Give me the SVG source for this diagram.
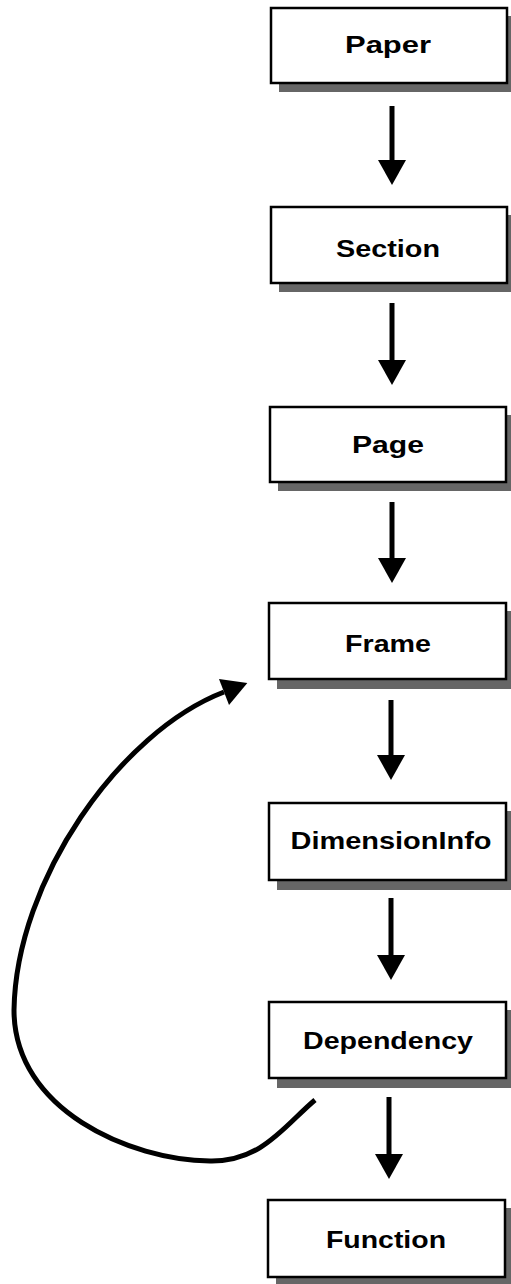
<svg xmlns="http://www.w3.org/2000/svg" width="511" height="1284" viewBox="0 0 511 1284">
  <style>
    .box { fill: #ffffff; stroke: #000000; stroke-width: 2.5; }
    .shadow { fill: #666666; }
    .label { font-family: "Liberation Sans", Arial, sans-serif; font-weight: bold; font-size: 23px; fill: #000000; text-anchor: middle; }
    .conn { fill: none; stroke: #000000; stroke-width: 5; }
  </style>
  <defs>
    <marker id="ah" markerUnits="userSpaceOnUse" markerWidth="26" markerHeight="28" refX="0" refY="14" orient="auto" overflow="visible">
      <path d="M0,0 L25,14 L0,28 z" fill="#000000"/>
    </marker>
  </defs>
  <rect width="511" height="1284" fill="#ffffff"/>

  <g id="node-paper">
    <rect class="shadow" x="279" y="16" width="236" height="76"/>
    <rect class="box" x="271" y="8" width="236" height="75"/>
    <text class="label" x="388" y="53" textLength="86" lengthAdjust="spacingAndGlyphs">Paper</text>
  </g>
  <g id="node-section">
    <rect class="shadow" x="279" y="215" width="236" height="77"/>
    <rect class="box" x="271" y="207" width="236" height="76"/>
    <text class="label" x="388" y="257" textLength="104" lengthAdjust="spacingAndGlyphs">Section</text>
  </g>
  <g id="node-page">
    <rect class="shadow" x="278" y="415" width="236" height="76"/>
    <rect class="box" x="270" y="407" width="236" height="75"/>
    <text class="label" x="388" y="453" textLength="72" lengthAdjust="spacingAndGlyphs">Page</text>
  </g>
  <g id="node-frame">
    <rect class="shadow" x="277" y="611" width="237" height="78"/>
    <rect class="box" x="269" y="603" width="237" height="76"/>
    <text class="label" x="388" y="652" textLength="86" lengthAdjust="spacingAndGlyphs">Frame</text>
  </g>
  <g id="node-dimensioninfo">
    <rect class="shadow" x="277" y="811" width="237" height="79"/>
    <rect class="box" x="269" y="803" width="237" height="77"/>
    <text class="label" x="391" y="849" textLength="201" lengthAdjust="spacingAndGlyphs">DimensionInfo</text>
  </g>
  <g id="node-dependency">
    <rect class="shadow" x="277" y="1010" width="237" height="78"/>
    <rect class="box" x="269" y="1002" width="237" height="76"/>
    <text class="label" x="388" y="1049" textLength="170" lengthAdjust="spacingAndGlyphs">Dependency</text>
  </g>
  <g id="node-function">
    <rect class="shadow" x="276" y="1208" width="237" height="77"/>
    <rect class="box" x="268" y="1200" width="237" height="77"/>
    <text class="label" x="386" y="1248" textLength="120" lengthAdjust="spacingAndGlyphs">Function</text>
  </g>

  <g id="connectors">
    <line class="conn" x1="392" y1="106" x2="392" y2="160" marker-end="url(#ah)"/>
    <line class="conn" x1="392" y1="303" x2="392" y2="360" marker-end="url(#ah)"/>
    <line class="conn" x1="392" y1="502" x2="392" y2="558" marker-end="url(#ah)"/>
    <line class="conn" x1="391" y1="700" x2="391" y2="755" marker-end="url(#ah)"/>
    <line class="conn" x1="391" y1="898" x2="391" y2="955" marker-end="url(#ah)"/>
    <line class="conn" x1="389" y1="1097" x2="389" y2="1154" marker-end="url(#ah)"/>
    <path class="conn" d="M315,1100 C285,1125 262,1162 210,1161 C130,1160 14,1110 14,1010 C16,880 120,732 224,692" marker-end="url(#ah)"/>
  </g>
</svg>
